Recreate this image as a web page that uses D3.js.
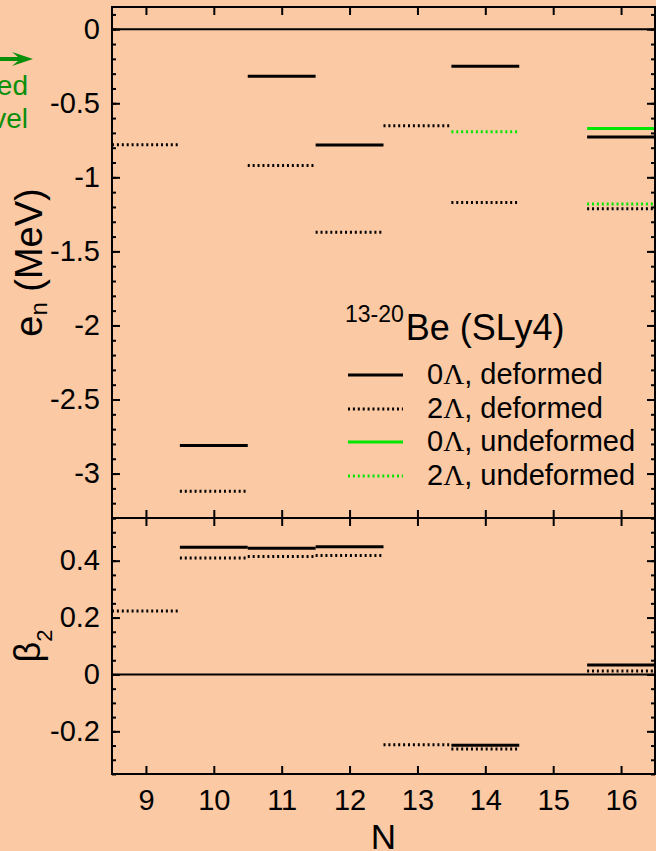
<!DOCTYPE html>
<meta charset="utf-8">
<style>
body { margin: 0; background: #fbc9a3; }
svg { display: block; }
text { font-family: "Liberation Sans", Arial, sans-serif; fill: #000; }
.tick text { font-size: 29px; }
.axis line { stroke: #000; stroke-width: 2px; }
.axis path { display: none; }
.frame { fill: none; stroke: #000; stroke-width: 2px; }
.zero { stroke: #000; stroke-width: 2px; }
.lvl { fill: none; stroke-width: 3px; }
.dot { stroke-dasharray: 2, 2.9; }
.lam { font-family: "Liberation Serif", "DejaVu Serif", serif; }
</style>
<body>
<script src="https://cdn.jsdelivr.net/npm/d3@7"></script>
<script>
// neutron number N and the levels (null = no level)
var nVals   = [9, 10, 11, 12, 13, 14, 15, 16];
var en0Def  = [null, -2.81, -0.318, -0.782, null, -0.25, null, -0.727];
var en2Def  = [-0.78, -3.12, -0.92, -1.37, -0.652, -1.17, null, -1.212];
var en0Und  = [null, null, null, null, null, null, null, -0.67];
var en2Und  = [null, null, null, null, null, -0.692, null, -1.18];
var b0Def   = [null, 0.447, 0.444, 0.449, null, -0.249, null, 0.033];
var b2Def   = [0.223, 0.409, 0.415, 0.418, -0.247, -0.262, null, 0.012];

var xTicks  = [9, 10, 11, 12, 13, 14, 15, 16];
var enTicks = [0, -0.5, -1, -1.5, -2, -2.5, -3];
var bTicks  = [0.4, 0.2, 0, -0.2];

var legendLabels = ["0\u039B, deformed", "2\u039B, deformed", "0\u039B, undeformed", "2\u039B, undeformed"];
var legendColors = ["#000", "#000", "#00e600", "#00e600"];
var legendDotted = [false, true, false, true];

var W = 656, H = 851;
var left = 112, right = 655;
var top1 = 7, bot1 = 518, top2 = 518, bot2 = 774;

var x  = d3.scaleLinear().domain([8.5, 16.5]).range([left, right]);
var yE = d3.scaleLinear().domain([-3.3, 0.15]).range([bot1, top1]);
var yB = d3.scaleLinear().domain([-0.35, 0.55]).range([bot2, top2]);

var svg = d3.select("body").append("svg")
	.attr("width", W)
	.attr("height", H);

svg.append("rect")
	.attr("width", W).attr("height", H)
	.attr("fill", "#fbc9a3");

// zero lines
svg.append("line").attr("class", "zero")
	.attr("x1", left).attr("x2", right).attr("y1", yE(0)).attr("y2", yE(0));
svg.append("line").attr("class", "zero")
	.attr("x1", left).attr("x2", right).attr("y1", yB(0)).attr("y2", yB(0));

// level bars, one per N, spanning N-0.5 .. N+0.5
function levels(vals, yScale, color, dotted) {
	var d = [];
	vals.forEach(function(v, i) { if (v !== null) d.push({n: nVals[i], v: v}); });
	svg.append("g").selectAll("line")
		.data(d).enter().append("line")
		.attr("class", dotted ? "lvl dot" : "lvl")
		.attr("stroke", color)
		.attr("x1", function(p) { return x(p.n - 0.5); })
		.attr("x2", function(p) { return x(p.n + 0.5); })
		.attr("y1", function(p) { return yScale(p.v); })
		.attr("y2", function(p) { return yScale(p.v); });
}
levels(en2Def, yE, "#000", true);
levels(en0Def, yE, "#000", false);
levels(en2Und, yE, "#00e600", true);
levels(en0Und, yE, "#00e600", false);
levels(b2Def, yB, "#000", true);
levels(b0Def, yB, "#000", false);

// frames
svg.append("rect").attr("class", "frame")
	.attr("x", left).attr("y", top1).attr("width", right - left).attr("height", bot1 - top1);
svg.append("rect").attr("class", "frame")
	.attr("x", left).attr("y", top2).attr("width", right - left).attr("height", bot2 - top2);

// minor tick positions
var enMinor = d3.range(-33, 2).map(function(i) { return i / 10; });
var bMinor = d3.range(-7, 12).map(function(i) { return i / 20; });

function addAxis(axis, tx, ty) {
	return svg.append("g")
		.attr("class", "axis")
		.attr("transform", "translate(" + tx + "," + ty + ")")
		.call(axis);
}
// plain hyphen minus like the original
var fmt = function(d) { return String(d); };

// energy panel
addAxis(d3.axisLeft(yE).tickValues(enTicks).tickSize(-8).tickPadding(12).tickFormat(fmt), left, 0);
addAxis(d3.axisLeft(yE).tickValues(enMinor).tickSize(-4).tickFormat(""), left, 0);
addAxis(d3.axisRight(yE).tickValues(enTicks).tickSize(-8).tickFormat(""), right, 0);
addAxis(d3.axisRight(yE).tickValues(enMinor).tickSize(-4).tickFormat(""), right, 0);
addAxis(d3.axisTop(x).tickValues(xTicks).tickSize(-8).tickFormat(""), 0, top1);
addAxis(d3.axisBottom(x).tickValues(xTicks).tickSize(-8).tickFormat(""), 0, bot1);

// beta panel
addAxis(d3.axisLeft(yB).tickValues(bTicks).tickSize(-8).tickPadding(12).tickFormat(fmt), left, 0);
addAxis(d3.axisLeft(yB).tickValues(bMinor).tickSize(-4).tickFormat(""), left, 0);
addAxis(d3.axisRight(yB).tickValues(bTicks).tickSize(-8).tickFormat(""), right, 0);
addAxis(d3.axisRight(yB).tickValues(bMinor).tickSize(-4).tickFormat(""), right, 0);
addAxis(d3.axisTop(x).tickValues(xTicks).tickSize(-8).tickFormat(""), 0, top2);
addAxis(d3.axisBottom(x).tickValues(xTicks).tickSize(-8).tickPadding(15).tickFormat(fmt), 0, bot2);

svg.selectAll(".tick text").attr("fill", "#000");

// axis titles
var yl = svg.append("text")
	.attr("transform", "translate(42," + (top1 + bot1) / 2 + ") rotate(-90)")
	.attr("text-anchor", "middle")
	.style("font-size", "38px");
yl.append("tspan").text("e");
yl.append("tspan").attr("dy", 5).style("font-size", "24px").text("n");
yl.append("tspan").attr("dy", -5).text(" (MeV)");

var bl = svg.append("text")
	.attr("transform", "translate(40," + (top2 + bot2) / 2 + ") rotate(-90)")
	.attr("text-anchor", "middle")
	.style("font-size", "36px");
bl.append("tspan").text("\u03B2");
bl.append("tspan").attr("dy", 12).style("font-size", "22px").text("2");

svg.append("text")
	.attr("x", (left + right) / 2)
	.attr("y", 849)
	.attr("text-anchor", "middle")
	.style("font-size", "35px")
	.text("N");

// legend
var title = svg.append("text").attr("x", 345).attr("y", 340);
title.append("tspan").attr("dy", -18).style("font-size", "23px").text("13-20");
title.append("tspan").attr("dy", 18).attr("dx", 2).style("font-size", "36px").text("Be (SLy4)");

var rowY = [384, 418, 451, 485];
legendLabels.forEach(function(lab, i) {
	svg.append("line")
		.attr("class", legendDotted[i] ? "lvl dot" : "lvl")
		.attr("stroke", legendColors[i])
		.attr("x1", 348).attr("x2", 403)
		.attr("y1", rowY[i] - 9).attr("y2", rowY[i] - 9);
	var t = svg.append("text")
		.attr("x", 427).attr("y", rowY[i])
		.style("font-size", "29px");
	t.append("tspan").text(lab.charAt(0));
	t.append("tspan").attr("class", "lam").text(lab.charAt(1));
	t.append("tspan").text(lab.slice(2));
});

// green note, cut off at the left edge
var green = "#0a8f0a";
svg.append("path")
	.attr("d", "M0,57 L18,57 L12,52 L33,59 L12,66 L18,61 L0,61 Z")
	.attr("fill", green);
svg.append("text").attr("x", 28).attr("y", 95).attr("text-anchor", "end")
	.style("font-size", "28px").style("fill", green).text("ed");
svg.append("text").attr("x", 28).attr("y", 128).attr("text-anchor", "end")
	.style("font-size", "28px").style("fill", green).text("vel");
</script>
